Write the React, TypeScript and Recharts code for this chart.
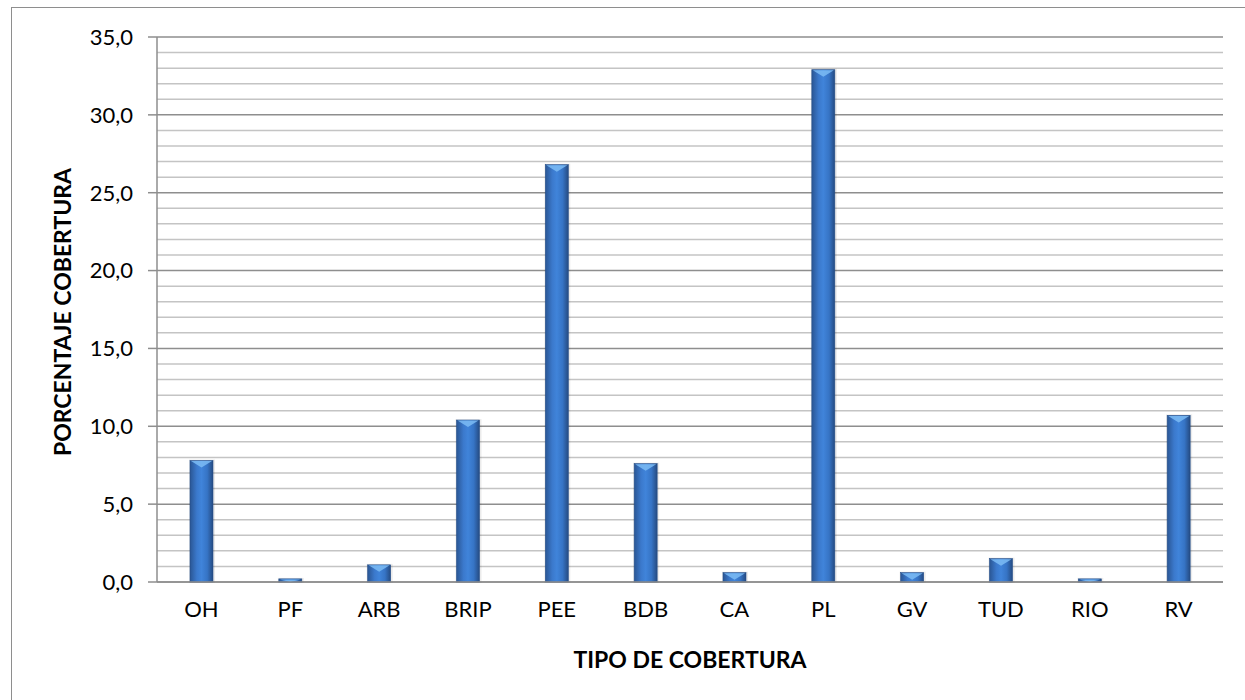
import { BarChart, Bar, XAxis, YAxis, CartesianGrid } from "recharts";

const categories = ["OH", "PF", "ARB", "BRIP", "PEE", "BDB", "CA", "PL", "GV", "TUD", "RIO", "RV"];
const coverage = [7.8, 0.2, 1.1, 10.4, 26.8, 7.6, 0.6, 32.9, 0.6, 1.5, 0.2, 10.7];
const majorTicks = [0, 5, 10, 15, 20, 25, 30, 35];
const minorTicks = [
    1, 2, 3, 4, 6, 7, 8, 9, 11, 12, 13, 14, 16, 17, 18, 19, 21, 22, 23, 24, 26, 27, 28, 29, 31, 32, 33, 34,
];

const data = categories.map((name, i) => ({ name, value: coverage[i] }));

const FONT = "Lato, 'Open Sans', sans-serif";

function formatComma(v: number) {
    return v.toFixed(1).replace(".", ",");
}

function minorCoords({ yAxis }: any) {
    const s = yAxis?.scale;
    if (!s) return [];
    return minorTicks.map((t) => (typeof s === "function" ? s(t) : s.map(t)));
}

function BevelBar(props: any) {
    const { x, y, width, height } = props;
    if (!height || height <= 0) return null;
    const cap = Math.min(7, height);
    return (
        <g>
            <rect x={x - 1} y={y - 1} width={width + 3} height={height + 2} fill="#000" opacity={0.08} />
            <rect x={x} y={y} width={width} height={height} fill="url(#barGrad)" stroke="#254f8a" strokeWidth={0.6} />
            <polygon
                points={`${x + 1},${y + 0.5} ${x + width - 1},${y + 0.5} ${x + width / 2},${y + cap}`}
                fill="#7cbcf4"
                opacity={0.85}
            />
        </g>
    );
}

export default function App() {
    return (
        <div style={{ position: "absolute", left: 0, top: 0, width: 1245, height: 700, overflow: "hidden", background: "#fff" }}>
            <div
                style={{
                    position: "absolute",
                    left: 11,
                    top: 7,
                    width: 1260,
                    height: 720,
                    border: "1.5px solid #8e8e8e",
                }}
            />
            <div style={{ position: "absolute", left: 0, top: 0 }}>
                <BarChart
                    width={1245}
                    height={700}
                    data={data}
                    margin={{ top: 37, right: 22, bottom: 88, left: 0 }}
                    barSize={23}
                >
                    <defs>
                        <linearGradient id="barGrad" x1="0" y1="0" x2="1" y2="0">
                            <stop offset="0%" stopColor="#2a5694" />
                            <stop offset="30%" stopColor="#3b79cc" />
                            <stop offset="50%" stopColor="#4084da" />
                            <stop offset="75%" stopColor="#3674c5" />
                            <stop offset="100%" stopColor="#254b82" />
                        </linearGradient>
                    </defs>
                    <CartesianGrid
                        vertical={false}
                        horizontalCoordinatesGenerator={minorCoords}
                        stroke="#c4c4c4"
                        strokeWidth={1.5}
                    />
                    <CartesianGrid vertical={false} stroke="#8e8e8e" strokeWidth={1.5} />
                    <XAxis
                        dataKey="name"
                        height={30}
                        axisLine={{ stroke: "#8e8e8e", strokeWidth: 1.5 }}
                        tickLine={false}
                        tickMargin={13}
                        tick={{ fill: "#000", fontSize: 22, fontFamily: FONT }}
                        interval={0}
                        label={{
                            content: () => (
                                <text x={690} y={668} textAnchor="middle" fontFamily={FONT} fontSize={23} fontWeight="bold" fill="#000">
                                    TIPO DE COBERTURA
                                </text>
                            ),
                        }}
                    />
                    <YAxis
                        width={157}
                        domain={[0, 35]}
                        ticks={majorTicks}
                        tickFormatter={formatComma}
                        axisLine={{ stroke: "#8e8e8e", strokeWidth: 1.5 }}
                        tickLine={{ stroke: "#8e8e8e", strokeWidth: 1.5 }}
                        tickSize={9}
                        tickMargin={15}
                        tick={{ fill: "#000", fontSize: 22, fontFamily: FONT }}
                        label={{
                            content: () => (
                                <text
                                    x={71}
                                    y={312}
                                    textAnchor="middle"
                                    transform="rotate(-90 71 312)"
                                    fontFamily={FONT}
                                    fontSize={23}
                                    fontWeight="bold"
                                    fill="#000"
                                >
                                    PORCENTAJE COBERTURA
                                </text>
                            ),
                        }}
                    />
                    <Bar dataKey="value" shape={<BevelBar />} isAnimationActive={false} />
                </BarChart>
            </div>
        </div>
    );
}
